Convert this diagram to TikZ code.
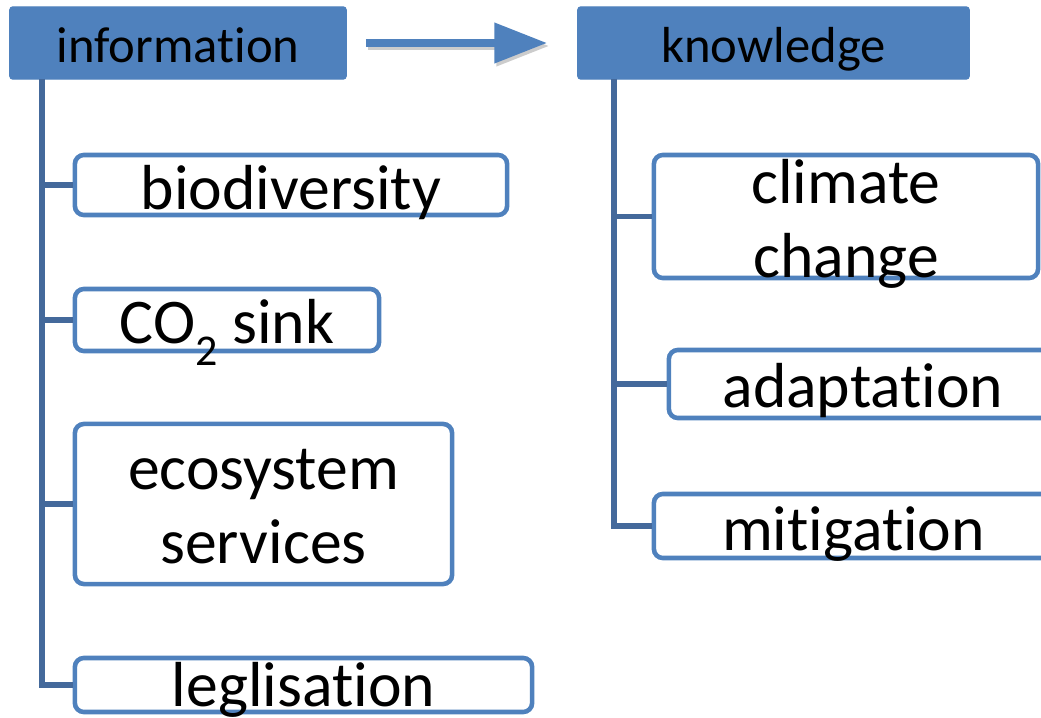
\documentclass[tikz,border=0pt]{standalone}
\usepackage{fontspec}
\setmainfont{Carlito}[Ligatures=NoCommon]
\usetikzlibrary{arrows.meta}
\definecolor{boxblue}{HTML}{4F81BD}
\definecolor{trunkblue}{HTML}{44699B}
\tikzset{
	head/.style={draw=boxblue, fill=boxblue, rounded corners=0.03cm, inner sep=0, minimum height=0.72cm, text height=0.38cm, text depth=0cm, font=\fontsize{14.4}{17}\selectfont},
	item/.style={draw=boxblue, fill=white, line width=1.3pt, rounded corners=0.09cm, inner sep=0, align=center, text height=0.48cm, text depth=0cm, font=\fontsize{18.1}{21}\selectfont},
	trunk/.style={draw=trunkblue, line width=1.5pt},
	flow/.style={draw=boxblue, line width=2.3pt, -{Triangle[length=15pt, width=11pt]}}
}
\newcommand{\lowsub}[1]{\raisebox{-0.36em}{\fontsize{12.5}{14}\selectfont #1}}

\begin{document}
\begin{tikzpicture}[x=0.01cm, y=-0.01cm]
			%%%%% START %%%%%
			\path[use as bounding box, clip] (0, 0) rectangle (1041, 718);
			
			\node[head, minimum width=3.36cm] (info) at (178, 43) {information};
			\node[head, minimum width=3.91cm] (know) at (773.5, 43) {knowledge};
			
			\draw[flow, draw=black!20, shorten <=0.21cm, shorten >=0.28cm] ([yshift=-0.03cm]info.east) -- ([yshift=-0.03cm]know.west);
			\draw[flow, shorten <=0.19cm, shorten >=0.30cm] (info.east) -- (know.west);
			
			\node[item, minimum width=4.32cm, minimum height=0.60cm] (bio) at (291, 185) {biodiversity};
			\node[item, minimum width=3.04cm, minimum height=0.62cm, text height=0.46cm] (co2) at (227, 320) {CO\lowsub{2} sink};
			\node[item, minimum width=3.77cm, minimum height=1.60cm, text height=1.18cm] (eco) at (263.5, 504) {ecosystem\\services};
			\node[item, minimum width=4.57cm, minimum height=0.54cm, text height=0.42cm] (legis) at (303.5, 685) {leglisation};
			
			\node[item, minimum width=3.84cm, minimum height=1.23cm, text height=1.22cm] (clim) at (846, 216.5) {climate\\change};
			\node[item, minimum width=3.88cm, minimum height=0.68cm, text height=0.46cm] (adapt) at (863, 384) {adaptation};
			\node[item, minimum width=3.99cm, minimum height=0.64cm] (mitig) at (853.5, 526) {mitigation};
			
			\coordinate (ltop) at (42, 79);
			\coordinate (rtop) at (614, 79);
			
			\draw[trunk] (ltop) |- (legis.west);
			\foreach \n in {bio, co2, eco}
				\draw[trunk] (ltop |- \n.west) -- (\n.west);
			
			\draw[trunk] (rtop) |- (mitig.west);
			\foreach \n in {clim, adapt}
				\draw[trunk] (rtop |- \n.west) -- (\n.west);
			%%%%% END %%%%%
\end{tikzpicture}
\end{document}
